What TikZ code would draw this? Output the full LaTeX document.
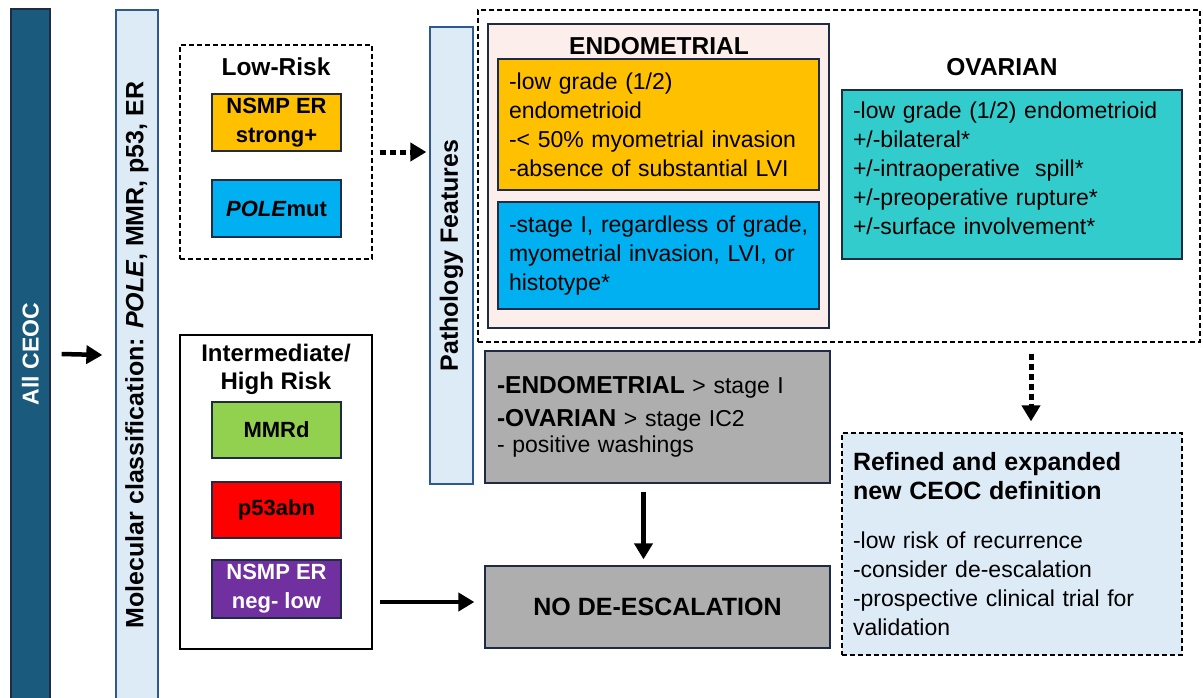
\documentclass[tikz,border=0pt]{standalone}
\usepackage{fontspec}
\setmainfont{Liberation Sans}
\usetikzlibrary{arrows.meta}
\definecolor{ceocblue}{HTML}{1A5B7D}
\definecolor{lightblue}{HTML}{DDEBF7}
\definecolor{barline}{HTML}{2F5A8F}
\definecolor{boxline}{HTML}{1F2A44}
\definecolor{ryellow}{HTML}{FFC000}
\definecolor{rcyan}{HTML}{00B0F0}
\definecolor{rgreen}{HTML}{92D050}
\definecolor{rred}{HTML}{FF0000}
\definecolor{rpurple}{HTML}{7030A0}
\definecolor{rpink}{HTML}{FCEEEA}
\definecolor{rteal}{HTML}{33CCCC}
\definecolor{rgray}{HTML}{AEAEAE}
\newcommand{\bodyf}{\fontsize{23}{29}\selectfont}
\newcommand{\titf}{\fontsize{24.5}{33}\selectfont\bfseries}
\newcommand{\tagf}{\fontsize{22}{29}\selectfont\bfseries}
\begin{document}
\begin{tikzpicture}[x=1pt,y=-1pt,
  bar/.style={draw=barline, line width=1.3pt, fill=lightblue, rotate=90, inner sep=0pt, font=\fontsize{25}{30}\selectfont\bfseries},
  tag/.style={draw=boxline, line width=1.5pt, minimum width=129pt, inner sep=0pt, align=center, font=\tagf},
  txtbox/.style={draw=boxline, line width=1.3pt, inner sep=0pt, align=left, font=\bodyf},
  lbl/.style={inner sep=0pt, align=center, font=\titf},
  dashbox/.style={draw, line width=1.2pt, dash pattern=on 5pt off 3pt},
  arr/.style={line width=4.5pt, -{Triangle[width=18pt,length=16pt]}},
  dotarr/.style={line width=5pt, dash pattern=on 6pt off 4pt, -{Triangle[width=18pt,length=16pt]}}
]
\useasboundingbox (0,0) rectangle (1203,697);

% left bars
\node[bar, draw=boxline, fill=ceocblue, text=white, minimum width=690pt, minimum height=39pt, font=\fontsize{23}{27}\selectfont\bfseries] (allceoc) at (30.5,354) {All CEOC};
\node[bar, minimum width=690pt, minimum height=42pt] (molecular) at (137,355) {Molecular classification: \textit{POLE}, MMR, p53, ER};

% low risk
\node[dashbox, minimum width=192pt, minimum height=214pt] (lowrisk) at (276,152) {};
\node[lbl] (lowlbl) at (276,67) {Low-Risk};
\node[tag, fill=ryellow, minimum height=57pt] (nsmp1) at (276.5,122.5) {NSMP ER\\strong+};
\node[tag, fill=rcyan, minimum height=57pt] (pole) at (276.5,208.5) {\textit{POLE}mut};

% intermediate / high risk
\node[draw, line width=2pt, minimum width=192pt, minimum height=314pt] (inter) at (276,492) {};
\node[lbl, font=\fontsize{24}{28}\selectfont\bfseries] (interlbl) at (276,369) {Intermediate/\\High Risk};
\node[tag, fill=rgreen, minimum height=56pt] (mmrd) at (276.5,430) {MMRd};
\node[tag, fill=rred, minimum height=56pt] (p53) at (276.5,510) {p53abn};
\node[tag, fill=rpurple, text=white, minimum height=58pt] (nsmp2) at (276.5,589) {NSMP ER\\neg- low};

% pathology features
\node[bar, minimum width=457pt, minimum height=43pt] (path) at (451.5,255.5) {Pathology Features};

% big dashed region
\node[dashbox, minimum width=722pt, minimum height=332pt] (bigdash) at (839,176) {};
\node[draw=boxline, line width=1.3pt, fill=rpink, minimum width=341pt, minimum height=304pt] (endo) at (658.5,176) {};
\node[lbl] (endolbl) at (659,46) {ENDOMETRIAL};
\node[txtbox, fill=ryellow, text width=299pt, minimum width=321pt, minimum height=131pt] (endoy) at (658.5,124.5)
  {-low grade (1/2)\\endometrioid\\-< 50\% myometrial invasion\\-absence of substantial LVI};
\node[txtbox, fill=rcyan, text width=299pt, minimum width=321pt, minimum height=107pt] (endob) at (658.5,255.5)
  {\mbox{-stage I, regardless of grade,}\\\mbox{myometrial invasion, LVI, or}\\histotype*};
\node[lbl] (ovlbl) at (1002,67) {OVARIAN};
\node[draw=boxline, line width=1.3pt, fill=rteal, minimum width=340pt, minimum height=169pt] (ovar) at (1012,174.5) {};
\node[inner sep=0pt, align=left, text width=318pt, font=\bodyf] (ovtext) at (1012,168.5)
  {-low grade (1/2) endometrioid\\+/-bilateral*\\+/-intraoperative\ \ spill*\\+/-preoperative rupture*\\+/-surface involvement*};

% gray boxes
\node[txtbox, fill=rgray, text width=321pt, minimum width=345pt, minimum height=132pt] (gray) at (657.5,417)
  {\fontsize{24.5}{33}\selectfont\textbf{-ENDOMETRIAL} {\bodyf > stage I}\\\textbf{-OVARIAN} {\bodyf > stage IC2}\\[-3pt]{\bodyf - positive washings}};
\node[txtbox, fill=rgray, minimum width=345pt, minimum height=82pt, font=\fontsize{25}{30}\selectfont\bfseries] (nodesc) at (657.5,607) {NO DE-ESCALATION};

% refined definition
\node[dashbox, fill=lightblue, inner sep=0pt, align=left, text width=318pt, minimum width=340pt, minimum height=222pt, font=\bodyf] (refined) at (1012,544)
  {{\fontsize{25}{33}\selectfont\bfseries Refined and expanded\\new CEOC definition}\\[20pt]
   -low risk of recurrence\\-consider de-escalation\\-prospective clinical trial for\\validation};

% connectors
\draw[arr] ([xshift=11pt]allceoc.south) -- ([xshift=-13pt]molecular.north);
\draw[dotarr] ([xshift=7pt]lowrisk.east) -- ([xshift=-3pt]lowrisk.east -| path.north);
\draw[arr] ([xshift=7pt,yshift=5pt]inter.east |- nodesc.west) -- ([xshift=-10pt,yshift=5pt]nodesc.west);
\draw[arr] ([xshift=-14pt,yshift=-8pt]gray.south) -- ([xshift=-14pt,yshift=6pt]nodesc.north);
\draw[dotarr] ([xshift=192pt,yshift=-11pt]bigdash.south) -- ([xshift=19pt,yshift=11pt]refined.north);
\end{tikzpicture}
\end{document}
